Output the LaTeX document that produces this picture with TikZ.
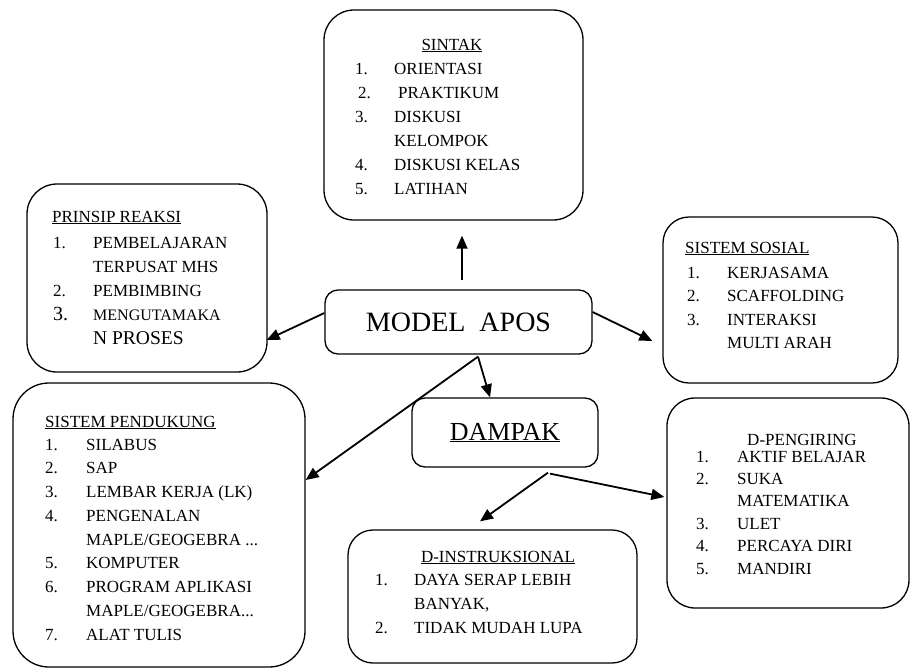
\documentclass[tikz,border=0pt]{standalone}
\usepackage{fontspec}
\setmainfont{Liberation Serif}
\usetikzlibrary{arrows.meta}
\usetikzlibrary{positioning}

\tikzset{
  box/.style={draw, line width=1.3pt, inner sep=0pt},
  listtext/.style={inner sep=0pt, anchor=base west, font=\fontsize{17}{24}\selectfont},
  titletext/.style={inner sep=0pt, font=\fontsize{17}{24}\selectfont},
  arr/.style={-{Triangle[length=13pt,width=11pt]}, line width=1.8pt},
}

\begin{document}
\begin{tikzpicture}[x=1pt,y=-1pt]
        \useasboundingbox (0,0) rectangle (911,670);
        % centre boxes
        \node[box, rounded corners=13pt, minimum width=267pt, minimum height=64pt] (model) at (458.5,322) {\fontsize{28}{28}\selectfont MODEL\ \ APOS};
        \node[box, rounded corners=13pt, minimum width=186pt, minimum height=69pt] (dampak) at (505,432.5) {\fontsize{26}{26}\selectfont\underline{DAMPAK}};

        % outer boxes
        \node[box, rounded corners=30pt, minimum width=259pt, minimum height=210pt] (sintak) at (453.5,115) {};
        \node[box, rounded corners=30pt, minimum width=240pt, minimum height=188pt] (prinsip) at (147,278) {};
        \node[box, rounded corners=26pt, minimum width=235pt, minimum height=166pt] (sosial) at (780.5,300) {};
        \node[box, rounded corners=36pt, minimum width=292pt, minimum height=284pt] (pendukung) at (159,525) {};
        \node[box, rounded corners=25pt, minimum width=289pt, minimum height=133pt] (dinstr) at (492.5,596.5) {};
        \node[box, rounded corners=28pt, minimum width=242pt, minimum height=210pt] (dpeng) at (788,503) {};

        % texts
        \node[titletext, anchor=base] (sintak-title) at (452,50) {\underline{SINTAK}};
        \node[listtext] (sintak-list) at (355,74) {\begin{tabular}[t]{@{}p{39pt}@{}l@{}}
            1. & ORIENTASI\\
            \hspace{3pt}2. & \hspace{4pt}PRAKTIKUM\\
            3. & DISKUSI\\
               & KELOMPOK\\
            4. & DISKUSI KELAS\\
            5. & LATIHAN
          \end{tabular}};

        \node[titletext, anchor=base west] (prinsip-title) at (52,222) {\underline{PRINSIP REAKSI}};
        \node[listtext] (prinsip-list) at (53,248) {\begin{tabular}[t]{@{}p{40pt}@{}l@{}}
            1. & PEMBELAJARAN\\
               & TERPUSAT MHS\\
            2. & PEMBIMBING\\
            {\fontsize{20}{24}\selectfont 3.} & {\fontsize{16}{24}\selectfont MENGUTAMAKA}\\
               & {\fontsize{19.5}{24}\selectfont N PROSES}
          \end{tabular}};

        \node[titletext, anchor=base west] (sosial-title) at (685,253) {\underline{SISTEM SOSIAL}};
        \node[listtext, font=\fontsize{17}{23.5}\selectfont] (sosial-list) at (687,278) {\begin{tabular}[t]{@{}p{40pt}@{}l@{}}
            1. & KERJASAMA\\
            2. & SCAFFOLDING\\
            3. & INTERAKSI\\
               & MULTI ARAH
          \end{tabular}};

        \node[titletext, anchor=base west] (pendukung-title) at (45,427) {\underline{SISTEM PENDUKUNG}};
        \node[listtext, font=\fontsize{17}{23.75}\selectfont] (pendukung-list) at (45,450) {\begin{tabular}[t]{@{}p{41pt}@{}l@{}}
            1. & SILABUS\\
            2. & SAP\\
            3. & LEMBAR KERJA (LK)\\
            4. & PENGENALAN\\
               & MAPLE/GEOGEBRA ...\\
            5. & KOMPUTER\\
            6. & PROGRAM APLIKASI\\
               & MAPLE/GEOGEBRA...\\
            7. & ALAT TULIS
          \end{tabular}};

        \node[titletext, anchor=base] (dinstr-title) at (498,562) {\underline{D-INSTRUKSIONAL}};
        \node[listtext] (dinstr-list) at (375,585) {\begin{tabular}[t]{@{}p{39pt}@{}l@{}}
            1. & DAYA SERAP LEBIH\\
               & BANYAK,\\
            2. & TIDAK MUDAH LUPA
          \end{tabular}};

        \node[titletext, anchor=base] (dpeng-title) at (802,445) {D-PENGIRING};
        \node[listtext, font=\fontsize{17}{22.4}\selectfont] (dpeng-list) at (696,462) {\begin{tabular}[t]{@{}p{41pt}@{}l@{}}
            1. & AKTIF BELAJAR\\
            2. & SUKA\\
               & MATEMATIKA\\
            3. & ULET\\
            4. & PERCAYA DIRI\\
            5. & MANDIRI
          \end{tabular}};

        % arrows
        \draw[arr, shorten <=9pt, shorten >=15pt] ([xshift=3.5pt]model.north) -- ([xshift=8.5pt]sintak.south);
        \draw[arr] ([yshift=9pt]model.west) -- ([xshift=-1pt,yshift=-62pt]prinsip.east);
        \draw[arr] ([yshift=10pt]model.east) -- ([xshift=-10pt,yshift=-41pt]sosial.west);
        \draw[arr] ([xshift=19.5pt,yshift=-2pt]model.south) -- ([xshift=-15pt]dampak.north);
        \draw[arr] ([xshift=19.5pt,yshift=-2pt]model.south) -- ([yshift=45pt]pendukung.east);
        \draw[arr] ([xshift=43pt,yshift=-5pt]dampak.south) -- ([xshift=-12.5pt,yshift=8pt]dinstr.north);
        \draw[arr] ([xshift=45pt,yshift=-6pt]dampak.south) -- ([xshift=-2pt,yshift=6pt]dpeng.west);
\end{tikzpicture}
\end{document}
